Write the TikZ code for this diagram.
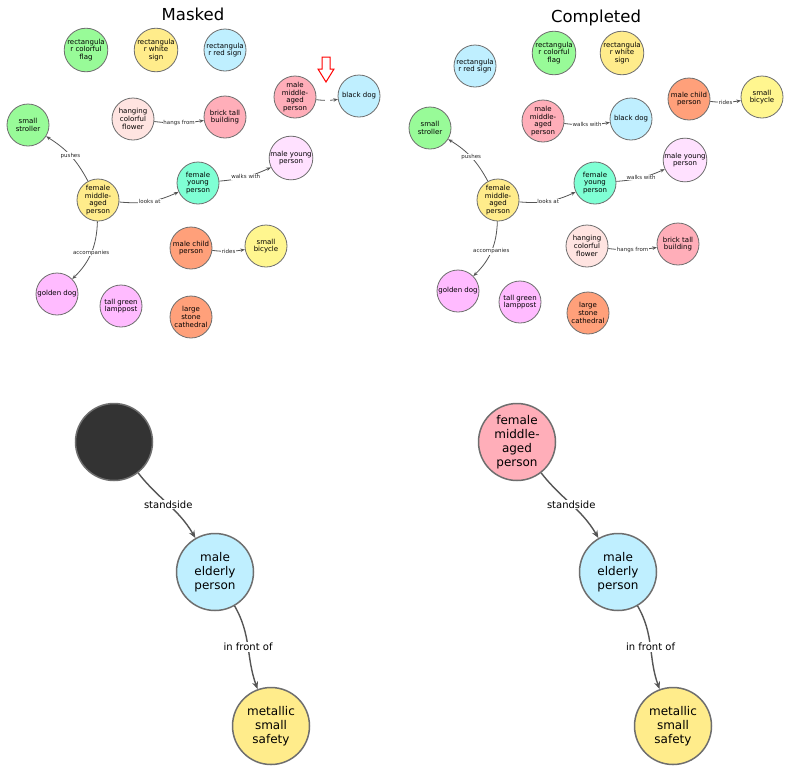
\documentclass[tikz,border=0pt]{standalone}
\usepackage{fontspec}
\setmainfont{DejaVu Sans}
\usetikzlibrary{arrows.meta}
\definecolor{cgreen}{HTML}{98FB98}
\definecolor{cyellow}{HTML}{FFEC8B}
\definecolor{cblue}{HTML}{BFEFFF}
\definecolor{cpink}{HTML}{FFAEB9}
\definecolor{crose}{HTML}{FFE4E1}
\definecolor{caqua}{HTML}{7FFFD4}
\definecolor{clav}{HTML}{FFE1FF}
\definecolor{csalmon}{HTML}{FFA07A}
\definecolor{ckhaki}{HTML}{FFF68F}
\definecolor{cplum}{HTML}{FFBBFF}
\definecolor{cdark}{HTML}{333333}
\definecolor{cedge}{HTML}{555555}
\definecolor{cborder}{HTML}{6E6E6E}
\tikzset{
  sn/.style={circle, draw=cborder, line width=0.8pt, minimum size=42pt, inner sep=0pt, align=center, font=\fontsize{7}{7.8}\selectfont},
  se/.style={draw=cedge, line width=0.8pt, -{Stealth[length=4.5pt,width=3.5pt]}},
  sl/.style={fill=white, inner sep=0.5pt, font=\fontsize{5.5}{6}\selectfont, text=black!85},
  bn/.style={circle, draw=cborder, line width=1.5pt, minimum size=77pt, inner sep=0pt, align=center, font=\fontsize{12}{14}\selectfont},
  be/.style={draw=cedge, line width=1.4pt, -{Stealth[length=7.5pt,width=6pt]}},
  bl/.style={fill=white, inner sep=1pt, font=\fontsize{10}{12}\selectfont},
  ttl/.style={font=\fontsize{16.5}{19}\selectfont},
  gap/.style={fill=white, inner sep=0pt, minimum width=5pt, minimum height=3pt}
}
\begin{document}
\begin{tikzpicture}[x=1pt,y=1pt]
\useasboundingbox (0,0) rectangle (790,-772);
\fill[white] (0,0) rectangle (790,-772);

% ===== Masked (top left) =====
\node[ttl] (t1) at (193,-14) {Masked};
\node[sn, fill=cgreen] (a1) at (86,-50) {rectangula\\r colorful\\flag};
\node[sn, fill=cyellow] (a2) at (156,-50) {rectangula\\r white\\sign};
\node[sn, fill=cblue] (a3) at (225,-50) {rectangula\\r red sign};
\node[sn, fill=cpink] (a4) at (295,-97) {male\\middle-\\aged\\person};
\node[sn, fill=cblue] (a5) at (359,-96) {black dog};
\node[sn, fill=crose] (a6) at (133,-119) {hanging\\colorful\\flower};
\node[sn, fill=cpink] (a7) at (225,-117) {brick tall\\building};
\node[sn, fill=cgreen] (a8) at (28,-125) {small\\stroller};
\node[sn, fill=clav] (a9) at (291,-158) {male young\\person};
\node[sn, fill=cyellow] (a10) at (98,-200) {female\\middle-\\aged\\person};
\node[sn, fill=caqua] (a11) at (198,-183) {female\\young\\person};
\node[sn, fill=csalmon] (a12) at (191,-248) {male child\\person};
\node[sn, fill=ckhaki] (a13) at (266,-246) {small\\bicycle};
\node[sn, fill=cplum] (a14) at (57,-294) {golden dog};
\node[sn, fill=cplum] (a15) at (121,-306) {tall green\\lamppost};
\node[sn, fill=csalmon] (a16) at (191,-317) {large\\stone\\cathedral};

\draw[se] (a4) to[bend right=8] node[gap] {} (a5);
\draw[se] (a6) to[bend right=8] node[sl] {hangs from} (a7);
\draw[se] (a10) to[bend right=15] node[sl] {pushes} (a8);
\draw[se] (a10) to[bend right=15] node[sl] {looks at} (a11);
\draw[se] (a11) to[bend right=10] node[sl] {walks with} (a9);
\draw[se] (a12) to[bend right=8] node[sl] {rides} (a13);
\draw[se] (a10) to[bend left=22] node[sl] {accompanies} (a14);

\draw[red, line width=1pt, fill=white] (322,-57) -- (330,-57) -- (330,-69) -- (334,-69) -- (326,-82) -- (318,-69) -- (322,-69) -- cycle;

% ===== Completed (top right) =====
\node[ttl] (t2) at (596,-18) {Completed};
\node[sn, fill=cblue] (b3) at (475,-66) {rectangula\\r red sign};
\node[sn, fill=cgreen] (b1) at (554,-53) {rectangula\\r colorful\\flag};
\node[sn, fill=cyellow] (b2) at (622,-53) {rectangula\\r white\\sign};
\node[sn, fill=csalmon] (b12) at (689,-99) {male child\\person};
\node[sn, fill=ckhaki] (b13) at (762,-97) {small\\bicycle};
\node[sn, fill=cpink] (b4) at (543,-121) {male\\middle-\\aged\\person};
\node[sn, fill=cblue] (b5) at (631,-119) {black dog};
\node[sn, fill=cgreen] (b8) at (430,-128) {small\\stroller};
\node[sn, fill=clav] (b9) at (685,-160) {male young\\person};
\node[sn, fill=cyellow] (b10) at (498,-200) {female\\middle-\\aged\\person};
\node[sn, fill=caqua] (b11) at (595,-183) {female\\young\\person};
\node[sn, fill=crose] (b6) at (587,-246) {hanging\\colorful\\flower};
\node[sn, fill=cpink] (b7) at (678,-244) {brick tall\\building};
\node[sn, fill=cplum] (b14) at (458,-291) {golden dog};
\node[sn, fill=cplum] (b15) at (520,-302) {tall green\\lamppost};
\node[sn, fill=csalmon] (b16) at (588,-313) {large\\stone\\cathedral};

\draw[se] (b12) to[bend right=8] node[sl] {rides} (b13);
\draw[se] (b4) to[bend right=8] node[sl] {walks with} (b5);
\draw[se] (b10) to[bend right=15] node[sl] {pushes} (b8);
\draw[se] (b10) to[bend right=15] node[sl] {looks at} (b11);
\draw[se] (b11) to[bend right=10] node[sl] {walks with} (b9);
\draw[se] (b6) to[bend right=8] node[sl] {hangs from} (b7);
\draw[se] (b10) to[bend left=22] node[sl] {accompanies} (b14);

% ===== bottom left =====
\node[bn, fill=cdark] (c1) at (114,-442) {};
\node[bn, fill=cblue] (c2) at (215,-572) {male\\elderly\\person};
\node[bn, fill=cyellow] (c3) at (271,-726) {metallic\\small\\safety};
\draw[be] (c1) to[out=-52, in=120] node[bl] {standside} (c2);
\draw[be] (c2) to[out=-60, in=110] node[bl] {in front of} (c3);

% ===== bottom right =====
\node[bn, fill=cpink] (d1) at (517,-442) {female\\middle-\\aged\\person};
\node[bn, fill=cblue] (d2) at (618,-572) {male\\elderly\\person};
\node[bn, fill=cyellow] (d3) at (673,-726) {metallic\\small\\safety};
\draw[be] (d1) to[out=-52, in=120] node[bl] {standside} (d2);
\draw[be] (d2) to[out=-60, in=110] node[bl] {in front of} (d3);
\end{tikzpicture}
\end{document}
